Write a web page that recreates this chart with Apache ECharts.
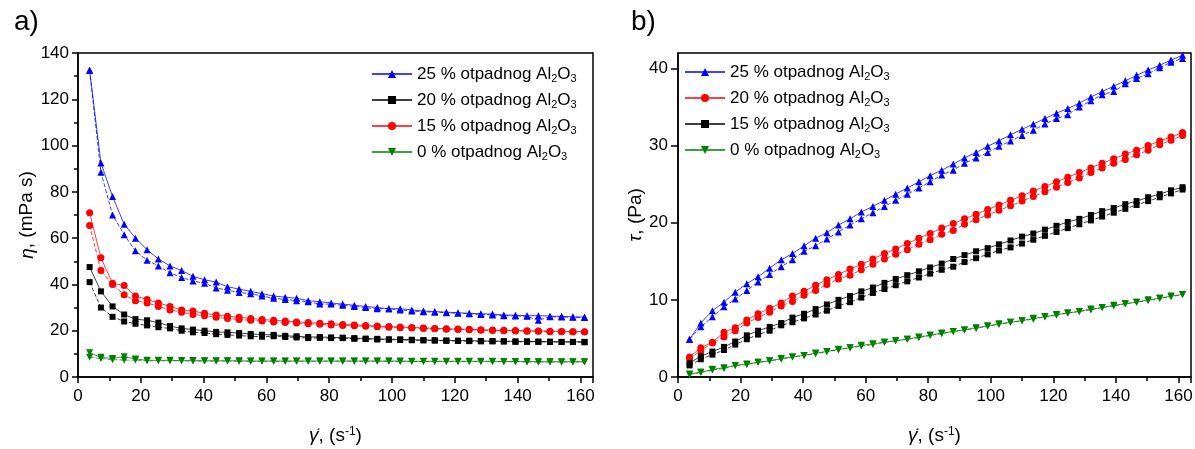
<!DOCTYPE html>
<html>
<head>
<meta charset="utf-8">
<script src="https://cdn.jsdelivr.net/npm/echarts@6/dist/echarts.min.js"></script>
<style>
  html, body { margin: 0; padding: 0; background: #fff; }
  #main { width: 1195px; height: 449px; }
</style>
</head>
<body>
<div id="main"></div>
<script>
// shear rate, s^-1 (same for every curve)
var shearRate = [3.7, 7.3, 11.0, 14.7, 18.3, 22.0, 25.6, 29.3, 33.0, 36.6, 40.3, 44.0, 47.6, 51.3, 55.0, 58.6, 62.3, 66.0, 69.6, 73.3, 77.0, 80.6, 84.3, 88.0, 91.6, 95.3, 99.0, 102.6, 106.3, 110.0, 113.6, 117.3, 121.0, 124.6, 128.3, 132.0, 135.6, 139.3, 143.0, 146.6, 150.3, 154.0, 157.6, 161.3];

// a) viscosity, mPa s
var visc25Up = [132.5, 92.5, 78, 66, 60, 55, 51, 48, 46, 43.5, 42, 41, 39, 38, 37, 36, 35, 34.5, 34, 33, 32.5, 32, 31.5, 31, 30.5, 30, 29.5, 29.5, 29, 28.5, 28.3, 28, 27.8, 27.5, 27.3, 27.2, 26.8, 26.7, 26.5, 26.5, 26.3, 26.2, 26, 25.9];
var visc25Down = [132.5, 88.5, 70, 61.5, 54.5, 50.5, 48, 45, 43, 41.5, 40.5, 38.5, 37.5, 36.5, 36, 35, 34, 33.5, 33, 32.5, 31.5, 31.5, 31, 30.5, 30, 29.5, 29.5, 29, 28.5, 28.2, 28, 27.8, 27.5, 27.3, 27, 26.8, 26.5, 26.4, 26.2, 24.5, 26, 25.9, 25.8, 25.7];
var visc20Up = [47.5, 37, 30.5, 27, 25, 24.5, 23.5, 22, 21, 20.5, 20, 19.5, 19.3, 19, 18.6, 18.3, 18.2, 17.8, 17.6, 17.3, 17.3, 17.1, 17, 16.8, 16.6, 16.5, 16.3, 16.3, 16.1, 16, 15.9, 15.8, 15.7, 15.7, 15.6, 15.5, 15.5, 15.4, 15.4, 15.3, 15.3, 15.2, 15.2, 15.2];
var visc20Down = [41, 30, 26, 24, 23, 22.3, 21.5, 21, 20, 19.3, 19, 18.5, 18.2, 17.9, 17.6, 17.4, 17.6, 17.3, 17.1, 16.8, 16.9, 16.8, 16.8, 16.5, 16.4, 16.2, 16.1, 16, 15.9, 15.8, 15.7, 15.6, 15.6, 15.5, 15.4, 15.4, 15.3, 15.2, 15.2, 15.2, 15.1, 15.1, 15.1, 15];
var visc15Up = [71, 51.5, 40.5, 39.5, 35, 33.5, 32, 30.5, 29, 28.5, 27.5, 26.8, 26.3, 25.8, 25.3, 24.8, 24.5, 24.2, 23.8, 23.5, 23.2, 23, 22.7, 22.5, 22.3, 22, 21.8, 21.6, 21.4, 21.2, 21, 20.9, 20.7, 20.6, 20.4, 20.3, 20.2, 20.1, 20, 19.9, 19.8, 19.7, 19.6, 19.6];
var visc15Down = [65.5, 46, 40, 35.5, 33, 32, 30.5, 29, 28, 27, 26.5, 25.8, 25.3, 24.8, 24.5, 24.2, 23.8, 23.5, 23.3, 23, 22.8, 22.5, 22.3, 22.1, 21.9, 21.7, 21.5, 21.3, 21.2, 21, 20.8, 20.6, 20.5, 20.4, 20.2, 20.1, 20, 19.9, 19.8, 19.8, 19.6, 19.5, 19.5, 19.4];
var visc0Up = [10.5, 8.5, 8, 8.8, 7.8, 7.2, 7.2, 7.2, 7.1, 7.1, 7.0, 7.0, 7.0, 7.0, 6.9, 6.9, 6.9, 6.9, 6.9, 6.9, 6.9, 6.9, 6.9, 6.9, 6.9, 6.9, 6.9, 6.9, 6.8, 6.8, 6.8, 6.8, 6.8, 6.8, 6.8, 6.8, 6.7, 6.7, 6.7, 6.6, 6.6, 6.6, 6.6, 6.6];
var visc0Down = [8.5, 8, 7.5, 7.3, 7.3, 7, 7, 7, 7, 6.9, 6.9, 6.9, 6.9, 6.8, 6.8, 6.8, 6.8, 6.8, 6.8, 6.8, 6.8, 6.8, 6.8, 6.8, 6.8, 6.8, 6.8, 6.7, 6.7, 6.7, 6.7, 6.7, 6.7, 6.7, 6.6, 6.6, 6.6, 6.6, 6.5, 6.5, 6.5, 6.5, 6.5, 6.5];

// b) shear stress, Pa
var stress25Up = [4.9, 7, 8.6, 9.7, 11, 12.1, 13, 14.1, 15.2, 16, 17, 18, 18.7, 19.7, 20.5, 21.4, 22.1, 22.9, 23.7, 24.5, 25.3, 26.1, 26.8, 27.6, 28.4, 29.1, 29.9, 30.6, 31.4, 32.1, 32.8, 33.5, 34.2, 34.8, 35.5, 36.3, 37, 37.7, 38.4, 39.1, 39.8, 40.4, 41.1, 41.7];
var stress25Down = [4.9, 6.5, 7.8, 9.1, 10.1, 11.2, 12.3, 13.3, 14.3, 15.2, 16.3, 17, 17.9, 18.8, 19.7, 20.5, 21.3, 22.1, 22.9, 23.7, 24.5, 25.3, 26.2, 26.8, 27.7, 28.4, 29.1, 29.9, 30.6, 31.3, 32, 32.8, 33.5, 34, 35, 35.8, 36.6, 37, 38, 38.7, 39.3, 40.1, 40.8, 41.3];
var stress20Up = [2.6, 3.8, 4.5, 5.8, 6.4, 7.4, 8.2, 8.9, 9.6, 10.5, 11.1, 11.9, 12.6, 13.3, 14, 14.6, 15.3, 16, 16.6, 17.3, 18, 18.6, 19.3, 19.9, 20.5, 21.1, 21.7, 22.3, 22.9, 23.5, 24.1, 24.7, 25.3, 25.9, 26.5, 27.1, 27.7, 28.3, 28.9, 29.4, 30, 30.6, 31.1, 31.7];
var stress20Down = [2.4, 3.4, 4.4, 5.2, 6, 7, 7.7, 8.4, 9.2, 9.8, 10.6, 11.2, 12, 12.7, 13.2, 13.9, 14.6, 15.3, 15.9, 16.5, 17.2, 17.8, 18.5, 19, 19.8, 20.4, 21, 21.6, 22.2, 22.8, 23.4, 24, 24.6, 25.2, 25.8, 26.5, 27.1, 27.7, 28.2, 28.8, 29.4, 30.1, 30.7, 31.3];
var stress15Up = [1.8, 2.7, 3.3, 3.9, 4.6, 5.4, 6, 6.5, 7, 7.7, 8.2, 8.8, 9.4, 10, 10.5, 11.1, 11.6, 12.2, 12.7, 13.2, 13.7, 14.2, 14.7, 15.3, 15.8, 16.3, 16.7, 17.2, 17.7, 18.2, 18.6, 19.1, 19.6, 20.1, 20.5, 21, 21.5, 21.9, 22.4, 22.8, 23.3, 23.7, 24.2, 24.6];
var stress15Down = [1.5, 2.3, 2.9, 3.5, 4.2, 4.9, 5.5, 6, 6.7, 7.1, 7.6, 8.1, 8.6, 9.2, 9.7, 10.3, 10.9, 11.4, 11.9, 12.4, 12.9, 13.4, 13.9, 14.3, 14.9, 15.4, 15.9, 16.4, 16.8, 17.3, 17.8, 18.3, 18.8, 19.3, 19.8, 20.3, 20.8, 21.3, 21.8, 22.3, 22.8, 23.3, 23.8, 24.3];
var stress0Up = [0.4, 0.6, 1, 1.2, 1.5, 1.7, 1.9, 2.1, 2.4, 2.6, 2.8, 3.1, 3.3, 3.6, 3.8, 4.1, 4.3, 4.5, 4.7, 4.9, 5.2, 5.4, 5.7, 5.9, 6.1, 6.4, 6.6, 6.9, 7.1, 7.3, 7.6, 7.8, 8.1, 8.3, 8.5, 8.8, 9, 9.3, 9.5, 9.7, 10, 10.2, 10.5, 10.7];
var stress0Down = [0.3, 0.6, 0.9, 1.1, 1.5, 1.6, 1.9, 2.1, 2.3, 2.6, 2.8, 3, 3.3, 3.5, 3.8, 4, 4.2, 4.5, 4.7, 4.9, 5.1, 5.4, 5.6, 5.9, 6.1, 6.3, 6.6, 6.8, 7.1, 7.3, 7.5, 7.8, 8, 8.3, 8.5, 8.7, 9, 9.2, 9.5, 9.7, 9.9, 10.2, 10.4, 10.7];

var legendLabels = {
  '25': '25 % otpadnog Al{sub|2}O{sub|3}',
  '20': '20 % otpadnog Al{sub|2}O{sub|3}',
  '15': '15 % otpadnog Al{sub|2}O{sub|3}',
  '0': '0 % otpadnog Al{sub|2}O{sub|3}'
};

var downTri = 'path://M0,0 L10,0 L5,9 Z';
var font = 'Liberation Sans, Arial, sans-serif';

function curve(name, panel, values, color, symbol, size, dashed) {
  return {
    name: name,
    type: 'line',
    xAxisIndex: panel,
    yAxisIndex: panel,
    data: shearRate.map(function (x, i) { return [x, values[i]]; }),
    symbol: symbol,
    symbolSize: size,
    showSymbol: true,
    itemStyle: { color: color },
    lineStyle: { color: color, width: 1, opacity: 0.75, type: dashed ? [4, 2] : 'solid' },
    emphasis: { disabled: true },
    z: 3
  };
}

function xAxisFor(idx) {
  return {
    type: 'value',
    gridIndex: idx,
    min: 0,
    max: 164,
    interval: 20,
    name: '{i|γ̇}, (s{sup|-1})',
    nameLocation: 'middle',
    nameGap: 49,
    nameTextStyle: {
      fontFamily: font, fontSize: 19, color: '#000',
      rich: {
        i: { fontFamily: font, fontSize: 19, fontStyle: 'italic', color: '#000' },
        sup: { fontFamily: font, fontSize: 12, color: '#000', verticalAlign: 'top', padding: [0, 0, 8, 0] }
      }
    },
    axisLine: { show: true, onZero: false, lineStyle: { color: '#000', width: 1.5 } },
    axisTick: { show: true, inside: false, length: 6, lineStyle: { color: '#000', width: 1.5 } },
    minorTick: { show: true, splitNumber: 2, length: 4, lineStyle: { color: '#000', width: 1.5 } },
    axisLabel: { color: '#000', fontFamily: font, fontSize: 17, margin: 11, showMaxLabel: false },
    splitLine: { show: false }
  };
}

function legendFor(names, left, top) {
  return {
    orient: 'vertical',
    left: left,
    top: top,
    data: names,
    itemWidth: 40,
    itemHeight: 10,
    itemGap: 6,
    selectedMode: false,
    formatter: function (n) { return legendLabels[n.split('_')[1]]; },
    textStyle: {
      fontFamily: font, fontSize: 17, color: '#000', lineHeight: 20,
      rich: { sub: { fontFamily: font, fontSize: 11, color: '#000', verticalAlign: 'bottom', padding: [6, 0, 0, 0] } }
    }
  };
}

var chartDom = document.getElementById('main');
var myChart = echarts.init(chartDom);
var option;

option = {
  animation: false,
  backgroundColor: '#fff',
  title: [
    { text: 'a)', left: 9, top: 3, textStyle: { fontFamily: font, fontSize: 28, fontWeight: 'normal', color: '#000' } },
    { text: 'b)', left: 626, top: 3, textStyle: { fontFamily: font, fontSize: 28, fontWeight: 'normal', color: '#000' } }
  ],
  legend: [
    legendFor(['a_25', 'a_20', 'a_15', 'a_0'], 366, 59),
    legendFor(['b_25', 'b_20', 'b_15', 'b_0'], 679, 57)
  ],
  grid: [
    { left: 78, right: 602, top: 53, bottom: 72, show: true, borderColor: '#000', borderWidth: 1.5, containLabel: false, outerBoundsMode: 'none' },
    { left: 678, right: 4, top: 53, bottom: 72, show: true, borderColor: '#000', borderWidth: 1.5, containLabel: false, outerBoundsMode: 'none' }
  ],
  xAxis: [xAxisFor(0), xAxisFor(1)],
  yAxis: [
    {
      type: 'value', gridIndex: 0, min: 0, max: 140, interval: 20,
      name: '{i|η}, (mPa s)', nameLocation: 'middle', nameGap: 35,
      nameTextStyle: { fontFamily: font, fontSize: 19, color: '#000', rich: { i: { fontFamily: font, fontSize: 19, fontStyle: 'italic', color: '#000' } } },
      axisLine: { show: true, lineStyle: { color: '#000', width: 1.5 } },
      axisTick: { show: true, inside: false, length: 6, lineStyle: { color: '#000', width: 1.5 } },
      minorTick: { show: true, splitNumber: 2, length: 4, lineStyle: { color: '#000', width: 1.5 } },
      axisLabel: { color: '#000', fontFamily: font, fontSize: 17, margin: 9 },
      splitLine: { show: false }
    },
    {
      type: 'value', gridIndex: 1, min: 0, max: 42, interval: 10,
      name: '{i|τ}, (Pa)', nameLocation: 'middle', nameGap: 33,
      nameTextStyle: { fontFamily: font, fontSize: 19, color: '#000', rich: { i: { fontFamily: font, fontSize: 19, fontStyle: 'italic', color: '#000' } } },
      axisLine: { show: true, lineStyle: { color: '#000', width: 1.5 } },
      axisTick: { show: true, inside: false, length: 7, lineStyle: { color: '#000', width: 1.5 } },
      axisLabel: { color: '#000', fontFamily: font, fontSize: 17, margin: 10, showMaxLabel: false },
      splitLine: { show: false }
    }
  ],
  series: [
    curve('a_25', 0, visc25Up, '#0000ff', 'triangle', 7, false),
    curve('a_25', 0, visc25Down, '#0000ff', 'triangle', 7, true),
    curve('a_20', 0, visc20Up, '#000000', 'rect', 6, false),
    curve('a_20', 0, visc20Down, '#000000', 'rect', 6, true),
    curve('a_15', 0, visc15Up, '#ff0000', 'circle', 7, false),
    curve('a_15', 0, visc15Down, '#ff0000', 'circle', 7, true),
    curve('a_0', 0, visc0Up, '#008000', downTri, 7, false),
    curve('a_0', 0, visc0Down, '#008000', downTri, 7, true),
    curve('b_25', 1, stress25Up, '#0000ff', 'triangle', 7, false),
    curve('b_25', 1, stress25Down, '#0000ff', 'triangle', 7, true),
    curve('b_20', 1, stress20Up, '#ff0000', 'circle', 7, false),
    curve('b_20', 1, stress20Down, '#ff0000', 'circle', 7, true),
    curve('b_15', 1, stress15Up, '#000000', 'rect', 6, false),
    curve('b_15', 1, stress15Down, '#000000', 'rect', 6, true),
    curve('b_0', 1, stress0Up, '#008000', downTri, 7, false),
    curve('b_0', 1, stress0Down, '#008000', downTri, 7, true)
  ]
};

option && myChart.setOption(option);
</script>
</body>
</html>
